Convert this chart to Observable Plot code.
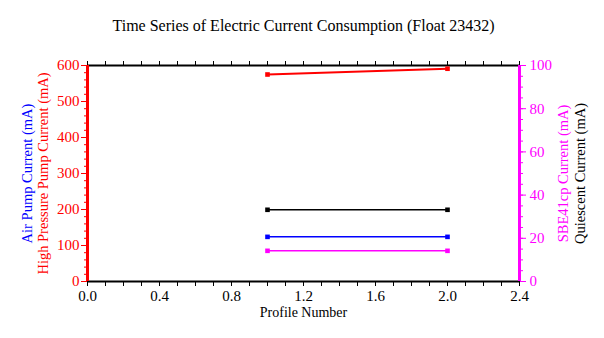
<!DOCTYPE html>
<html><head><meta charset="utf-8">
<script src="https://cdn.jsdelivr.net/npm/d3@7"></script>
<script src="https://cdn.jsdelivr.net/npm/@observablehq/plot@0.6"></script>
<style>body{margin:0;background:#fff;font-family:"Liberation Serif",serif} svg, svg text, svg g{font-family:"Liberation Serif",serif !important}</style>
</head><body><div id="chart"></div>
<script>
// Data
const profiles = [1, 2];
const highPressure = [575, 591];   // left axis (mA)
const airPump = [124, 124];        // left axis (mA)
const sbe41cp = [14.2, 14.2];      // right axis (mA)
const quiescent = [33.2, 33.2];    // right axis (mA)

const xTicks = [0, 0.4, 0.8, 1.2, 1.6, 2.0, 2.4];
const xMinor = [0,0.1,0.2,0.3,0.4,0.5,0.6,0.7,0.8,0.9,1.0,1.1,1.2,1.3,1.4,1.5,1.6,1.7,1.8,1.9,2.0,2.1,2.2,2.3,2.4];
const leftTicks = [0, 100, 200, 300, 400, 500, 600];
const leftMinor = [0,20,40,60,80,100,120,140,160,180,200,220,240,260,280,300,320,340,360,380,400,420,440,460,480,500,520,540,560,580,600];
const rightTicks = [0, 20, 40, 60, 80, 100];
const rightMinor = [0,5,10,15,20,25,30,35,40,45,50,55,60,65,70,75,80,85,90,95,100];
const ratio = 6; // left max / right max

const RED = "#ff0000", BLUE = "#0000ff", MAG = "#ff00ff", BLK = "#000000";
const FONT = '"Liberation Serif", serif';

const series = [
  {values: highPressure, color: RED, k: 1, w: 1.8},
  {values: quiescent, color: BLK, k: ratio, w: 1.5},
  {values: airPump, color: BLUE, k: 1, w: 1.5},
  {values: sbe41cp, color: MAG, k: ratio, w: 1.5}
];

const lineMarks = [];
for (const s of series) {
  const pts = profiles.map((p, i) => ({x: p, y: s.values[i] * s.k}));
  lineMarks.push(Plot.line(pts, {x: "x", y: "y", stroke: s.color, strokeWidth: s.w}));
  lineMarks.push(Plot.dot(pts, {x: "x", y: "y", symbol: "square", r: 2.6, fill: s.color, stroke: "none"}));
}

const chart = Plot.plot({
  width: 604, height: 338,
  marginLeft: 87, marginRight: 85, marginTop: 65, marginBottom: 57,
  style: {fontFamily: FONT, fontSize: "14px", background: "white", color: "black"},
  x: {domain: [0, 2.4]},
  y: {domain: [0, 600]},
  marks: [
    // bottom axis
    Plot.axisX({ticks: xMinor, tickSize: 5, tickFormat: () => "", label: null, stroke: BLK}),
    Plot.axisX({ticks: xTicks, tickSize: 5, tickPadding: 4, tickFormat: d3.format(".1f"), label: null, fill: BLK, stroke: BLK, fontSize: 15, fontFamily: FONT}),
    // top ticks
    Plot.axisX({anchor: "top", ticks: xMinor, tickSize: 5, tickFormat: () => "", label: null, stroke: BLK}),
    // left axis
    Plot.axisY({ticks: leftMinor, tickSize: 3, tickFormat: () => "", label: null, stroke: RED}),
    Plot.axisY({ticks: leftTicks, tickSize: 6, tickPadding: 2, label: null, stroke: RED, fill: RED, fontSize: 15, fontFamily: FONT}),
    // right axis
    Plot.axisY({anchor: "right", ticks: rightMinor.map(v => v * ratio), tickSize: 3, tickFormat: () => "", label: null, stroke: MAG}),
    Plot.axisY({anchor: "right", ticks: rightTicks.map(v => v * ratio), tickFormat: d => d / ratio, tickSize: 6, tickPadding: 4, label: null, stroke: MAG, fill: MAG, fontSize: 15, fontFamily: FONT}),
    // frame
    Plot.ruleY([0, 600], {stroke: BLK, strokeWidth: 2}),
    Plot.ruleX([0], {stroke: RED, strokeWidth: 3}),
    Plot.ruleX([2.4], {stroke: MAG, strokeWidth: 3}),
    ...lineMarks,
    // texts
    Plot.text(["Time Series of Electric Current Consumption (Float 23432)"], {frameAnchor: "top", dy: -46, fontSize: 16, fill: BLK, fontFamily: FONT}),
    Plot.text(["Profile Number"], {frameAnchor: "bottom", dy: 35, fontSize: 14, fill: BLK, fontFamily: FONT}),
    Plot.text(["Air Pump Current (mA)"], {frameAnchor: "left", textAnchor: "middle", dx: -60, rotate: -90, fontSize: 14.5, fill: BLUE, fontFamily: FONT}),
    Plot.text(["High Pressure Pump Current (mA)"], {frameAnchor: "left", textAnchor: "middle", dx: -44, rotate: -90, fontSize: 14.5, fill: RED, fontFamily: FONT}),
    Plot.text(["SBE41cp Current (mA)"], {frameAnchor: "right", textAnchor: "middle", dx: 44, rotate: -90, fontSize: 14.5, fill: MAG, fontFamily: FONT}),
    Plot.text(["Quiescent Current (mA)"], {frameAnchor: "right", textAnchor: "middle", dx: 61, rotate: -90, fontSize: 14.5, fill: BLK, fontFamily: FONT})
  ]
});
document.getElementById("chart").appendChild(chart);
</script>
</body></html>
